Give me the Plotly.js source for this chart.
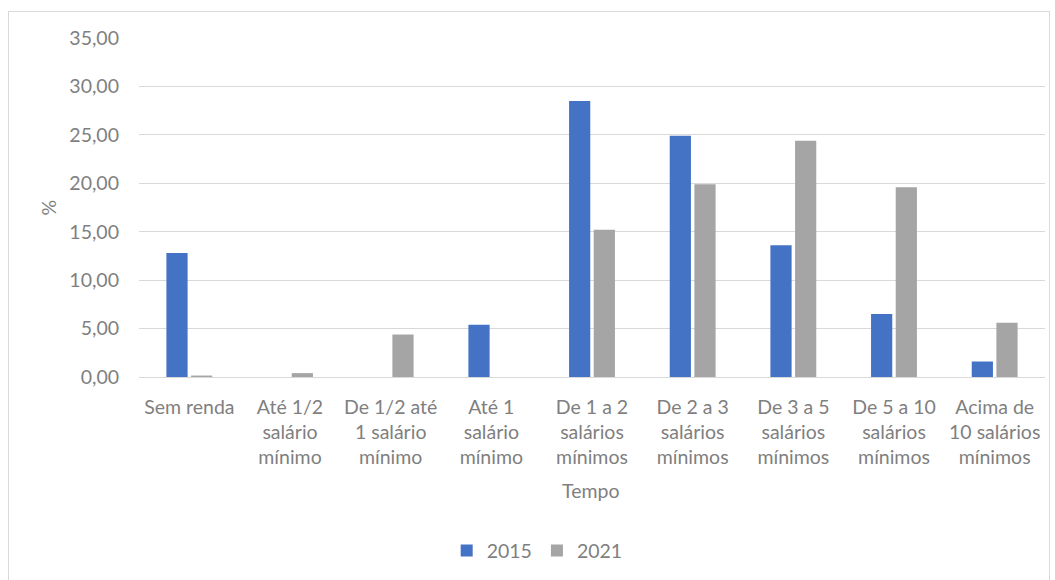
<!DOCTYPE html>
<html>
<head>
<meta charset="utf-8">
<script src="https://cdn.plot.ly/plotly-3.0.1.min.js"></script>
<style>
html,body{margin:0;padding:0;background:#fff;}
#wrap{position:relative;width:1055px;height:580px;}
#chart{position:absolute;left:0;top:0;width:1055px;height:580px;}
#frame{position:absolute;left:8px;top:11px;width:1040px;height:575px;border:1px solid #d9d9d9;pointer-events:none;}
</style>
</head>
<body>
<div id="wrap"><div id="chart"></div><div id="frame"></div></div>
<script>
const categories = [
  "Sem renda",
  "Até 1/2<br>salário<br>mínimo",
  "De 1/2 até<br>1 salário<br>mínimo",
  "Até 1<br>salário<br>mínimo",
  "De 1 a 2<br>salários<br>mínimos",
  "De 2 a 3<br>salários<br>mínimos",
  "De 3 a 5<br>salários<br>mínimos",
  "De 5 a 10<br>salários<br>mínimos",
  "Acima de<br>10 salários<br>mínimos"
];
const values2015 = [12.8, 0, 0, 5.4, 28.5, 24.9, 13.6, 6.5, 1.6];
const values2021 = [0.15, 0.4, 4.4, 0, 15.2, 19.9, 24.4, 19.6, 5.6];
const yTicks = [0, 5, 10, 15, 20, 25, 30, 35];

const textColor = "#7f7f7f";
const fam = "Lato, 'Liberation Sans', Arial, sans-serif";
const font = {family: fam, size: 19.5, color: textColor};

const data = [
  {type: "bar", name: "2015", x: categories, y: values2015, marker: {color: "#4472C4"}},
  {type: "bar", name: "2021", x: categories, y: values2021, marker: {color: "#A5A5A5"}}
];

const layout = {
  width: 1055, height: 580,
  margin: {l: 139, r: 10, t: 38, b: 201},
  paper_bgcolor: "#ffffff", plot_bgcolor: "#ffffff",
  font: font,
  separators: ",.",
  barmode: "group",
  bargap: 0.51,
  bargroupgap: 0.14,
  showlegend: true,
  legend: {orientation: "h", x: 0.4395, xanchor: "center", y: -0.513, yanchor: "middle",
           font: font, itemwidth: 30, traceorder: "normal"},
  xaxis: {
    type: "category", showgrid: false, zeroline: false, showline: false,
    ticks: "", ticklabelstandoff: 16, tickangle: 0, automargin: false,
    tickfont: font
  },
  yaxis: {
    range: [0, 35], tickvals: yTicks, tickformat: ".2f",
    showgrid: true, gridcolor: "#d9d9d9", gridwidth: 1,
    zeroline: true, zerolinecolor: "#d9d9d9", zerolinewidth: 1,
    showline: false, ticks: "", ticklabelstandoff: 19, automargin: false,
    tickfont: font
  },
  annotations: [
    {text: "%", xref: "paper", yref: "paper", x: -0.0994, y: 0.5, xanchor: "center", yanchor: "middle",
     showarrow: false, textangle: -90, font: font},
    {text: "Tempo", xref: "paper", yref: "paper", x: 0.498, y: -0.334, xanchor: "center", yanchor: "middle",
     showarrow: false, font: font}
  ]
};

Plotly.newPlot("chart", data, layout, {displayModeBar: false, staticPlot: true});
</script>
</body>
</html>
